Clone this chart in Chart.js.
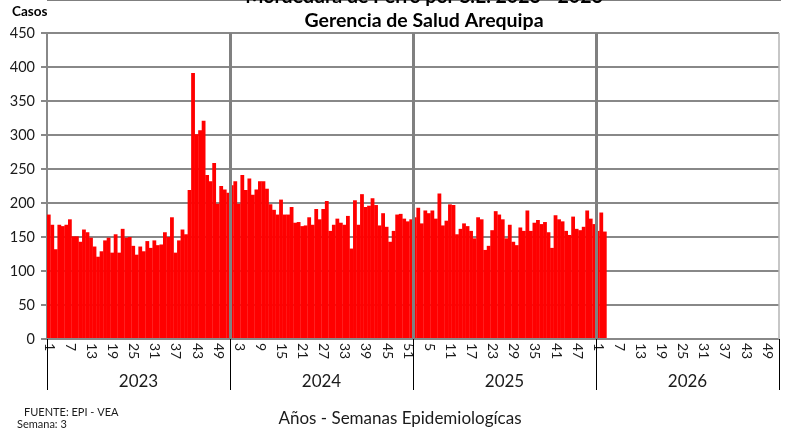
<!DOCTYPE html>
<html>
<head>
<meta charset="utf-8">
<script src="https://cdn.jsdelivr.net/npm/chart.js@4.4.0/dist/chart.umd.min.js"></script>
<style>
  body { margin: 0; background: #fff; }
  #wrap { width: 787px; height: 432px; }
</style>
</head>
<body>
<div id="wrap"><canvas id="chartCanvas" width="787" height="432"></canvas></div>
<script>
// casos por semana epidemiologica
const years = ['2023', '2024', '2025', '2026'];
const weeksPerYear = 52;
const casos2023 = [183, 168, 132, 168, 166, 168, 176, 151, 151, 143, 161, 157, 149, 136, 121, 129, 145, 149, 127, 154,
  127, 162, 149, 150, 137, 124, 136, 129, 144, 134, 145, 138, 139, 157, 150, 179, 127, 145, 161, 154,
  219, 391, 301, 307, 321, 241, 232, 259, 199, 225, 220, 215];
const casos2024 = [226, 232, 199, 241, 219, 236, 212, 220, 232, 232, 221, 198, 190, 183, 205, 183, 183, 194, 171, 172,
  166, 167, 179, 168, 191, 176, 191, 203, 159, 168, 177, 171, 168, 181, 133, 204, 168, 213, 194, 196,
  207, 197, 167, 185, 165, 143, 159, 183, 184, 177, 173, 176];
const casos2025 = [179, 193, 170, 189, 185, 189, 177, 214, 167, 174, 198, 197, 154, 162, 170, 166, 159, 148, 179, 176,
  131, 137, 160, 188, 183, 176, 148, 168, 143, 138, 164, 159, 189, 159, 171, 175, 169, 172, 157, 134,
  182, 176, 173, 159, 153, 180, 162, 160, 165, 189, 177, 169];
const casos2026 = [159, 186, 158];
const yTicks = [0, 50, 100, 150, 200, 250, 300, 350, 400, 450];

let etiquetas = [];
let semanas = [];
let casos = [];
let series = [casos2023, casos2024, casos2025, casos2026];
for (let y = 0; y < years.length; y++) {
  for (let w = 1; w <= weeksPerYear; w++) {
    etiquetas.push(years[y] + '-' + w);
    semanas.push(w);
    let v = series[y][w - 1];
    casos.push(v === undefined ? null : v);
  }
}
const total = etiquetas.length;

function limite(xs, i) {
  // borde izquierdo de la categoria i
  if (i <= 0) return xs.left;
  if (i >= total) return xs.right;
  return (xs.getPixelForValue(i - 1) + xs.getPixelForValue(i)) / 2;
}

const extras = {
  id: 'extras',
  afterDraw(chart) {
    const ctx = chart.ctx;
    const area = chart.chartArea;
    const xs = chart.scales.x;
    ctx.save();

    // borde derecho
    ctx.strokeStyle = '#b4b4b4';
    ctx.lineWidth = 1.5;
    ctx.beginPath();
    ctx.moveTo(area.right, area.top);
    ctx.lineTo(area.right, area.bottom);
    ctx.stroke();

    // semanas (rotadas)
    ctx.fillStyle = '#1a1a1a';
    ctx.font = '14px Lato';
    ctx.textAlign = 'left';
    ctx.textBaseline = 'middle';
    for (let i = 0; i < total; i += 6) {
      const px = xs.getPixelForValue(i);
      ctx.save();
      ctx.translate(px + 0.5, area.bottom + 4);
      ctx.rotate(Math.PI / 2);
      ctx.fillText(String(semanas[i]), 0, 0);
      ctx.restore();
    }

    // separadores de año y etiquetas
    ctx.strokeStyle = '#000';
    ctx.lineWidth = 1;
    for (let k = 0; k <= years.length; k++) {
      const bx = Math.round(limite(xs, k * weeksPerYear)) + 0.5;
      ctx.beginPath();
      ctx.moveTo(bx, area.bottom);
      ctx.lineTo(bx, area.bottom + 51);
      ctx.stroke();
    }
    ctx.font = '17px Lato';
    ctx.textAlign = 'center';
    ctx.textBaseline = 'alphabetic';
    for (let k = 0; k < years.length; k++) {
      const a = limite(xs, k * weeksPerYear);
      const b = limite(xs, (k + 1) * weeksPerYear);
      ctx.fillText(years[k], (a + b) / 2, 387);
    }

    // titulos
    ctx.fillStyle = '#000';
    ctx.font = 'bold 19.5px Lato';
    ctx.fillText('Mordedura de Perro por S.E. 2023 - 2026', 424, 3);
    ctx.fillText('Gerencia de Salud Arequipa', 424, 27);
    ctx.font = 'bold 13.5px Lato';
    ctx.textAlign = 'left';
    ctx.fillText('Casos', 12, 16);

    ctx.font = '17px Lato';
    ctx.textAlign = 'center';
    ctx.fillStyle = '#1a1a1a';
    ctx.fillText('Años - Semanas Epidemiologícas', 400, 424);
    ctx.font = '11px Lato';
    ctx.textAlign = 'left';
    ctx.fillText('FUENTE: EPI - VEA', 24, 416);
    ctx.fillText('Semana: 3', 17, 428);
    ctx.restore();
  }
};

const ctx = document.getElementById('chartCanvas').getContext('2d');
window.barChart = new Chart(ctx, {
  type: 'bar',
  data: {
    labels: etiquetas,
    datasets: [{
      data: casos,
      backgroundColor: '#ff0000',
      borderWidth: 0,
      categoryPercentage: 1,
      barPercentage: 1.08
    }]
  },
  options: {
    responsive: false,
    animation: false,
    layout: { padding: { top: 33, right: 8, left: 0, bottom: 0 } },
    plugins: {
      legend: { display: false },
      tooltip: { enabled: false }
    },
    scales: {
      x: {
        ticks: { display: false, autoSkip: false },
        grid: {
          z: 1,
          drawTicks: false,
          color: c => (c.index > 0 && c.index < total && c.index % weeksPerYear === 0) ? '#808080' : 'rgba(0,0,0,0)',
          lineWidth: 3
        },
        border: { display: true, color: '#000', width: 1 },
        afterFit: s => { s.height = 93; }
      },
      y: {
        min: 0,
        max: 450,
        afterBuildTicks: s => { s.ticks = yTicks.map(v => ({ value: v })); },
        ticks: {
          color: '#1a1a1a',
          font: { family: 'Lato', size: 14.5 },
          padding: 6
        },
        grid: { color: '#888', lineWidth: 2, tickLength: 6, tickColor: '#888' },
        border: { display: true, color: '#888', width: 2 },
        afterFit: s => { s.width = 47; }
      }
    }
  },
  plugins: [extras]
});
</script>
</body>
</html>
